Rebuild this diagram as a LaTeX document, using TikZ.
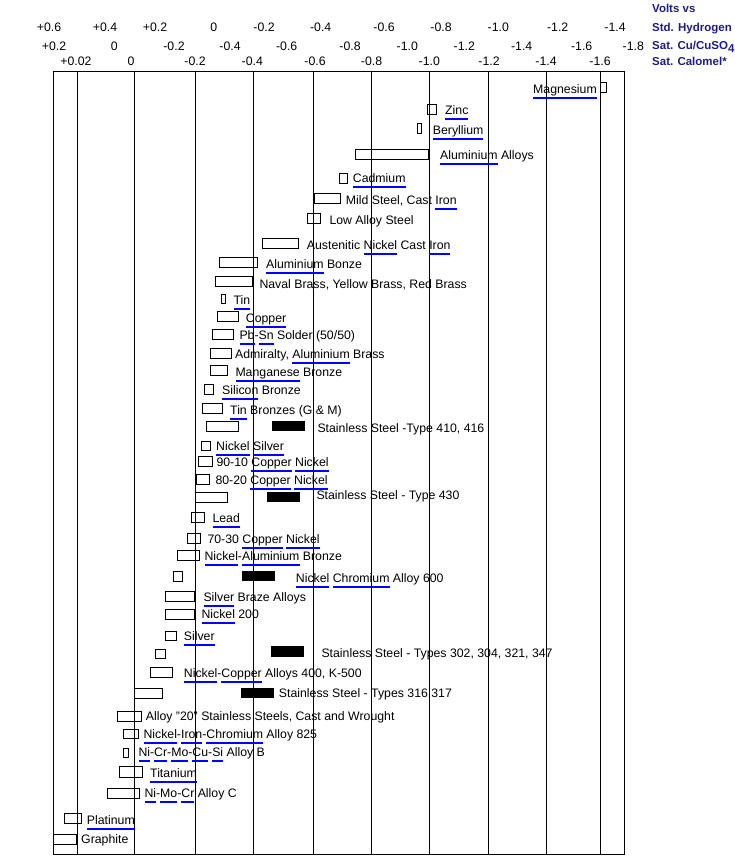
\documentclass[tikz,border=0pt]{standalone}
\usepackage{fontspec}
\setmainfont{Liberation Sans}
\usepackage{xcolor}
\definecolor{hdr}{RGB}{30,30,128}
\newlength\lnkw
\newcommand\lnk[1]{\settowidth\lnkw{#1}\rlap{\color{blue}\rule[-5.5pt]{\lnkw}{2pt}}#1}

\begin{document}
\begin{tikzpicture}[x=1pt,y=-1pt,
    every node/.style={inner sep=0,font=\fontsize{12.3}{14}\selectfont},
    lbl/.style={anchor=west,text height=8.6pt,text depth=0pt},
    tick/.style={text height=8.6pt,text depth=0pt},
    head/.style={anchor=west,text height=8.6pt,text depth=0pt,text=hdr,font=\fontsize{11.5}{14}\selectfont\bfseries},
    bar/.style={draw,line width=1pt},
    sbar/.style={fill=black}]
        \useasboundingbox (0,0) rectangle (735,860);
        % heading
        \node[head] (vv) at (652,8) {Volts vs};
        \node[head] (sh) at (652,27.5) {Std. Hydrogen};
        \node[head] (sc) at (652,45) {Sat. Cu/CuSO\raisebox{-3.5pt}{4}};
        \node[head] (sk) at (652,61) {Sat. Calomel*};
        \foreach \x/\v [count=\i] in {49/+0.6,105/+0.4,155/+0.2,213.7/0,264/-0.2,320.7/-0.4,384/-0.6,441/-0.8,498.3/-1.0,557.7/-1.2,615/-1.4}
          \node[tick] (h\i) at (\x,26.7) {\v};
        \foreach \x/\v [count=\i] in {54/+0.2,114.3/0,174/-0.2,230/-0.4,286.7/-0.6,350/-0.8,407.3/-1.0,464.3/-1.2,521.7/-1.4,581.7/-1.6,633.3/-1.8}
          \node[tick] (c\i) at (\x,46.3) {\v};
        \foreach \x/\v [count=\i] in {76/+0.02,131/0,195/-0.2,252.3/-0.4,315/-0.6,371.5/-0.8,429.3/-1.0,489/-1.2,546/-1.4,600/-1.6}
          \node[tick] (k\i) at (\x,61.2) {\v};
        % grid
        \draw[line width=1pt] (53.3,71.7) rectangle (624.7,854.3);
        \foreach \x in {77.3,134.3,195.3,253.3,313.3,371,429.3,488,546.7,600}
          \draw[line width=1pt] (\x,71.7) -- (\x,854.3);
        % metals
        \draw[bar] (600.7,82.3) rectangle (606.7,92.3);
        \node[lbl,anchor=east] (mg) at (597,89) {\lnk{Magnesium}};
        \draw[bar] (427.3,104.3) rectangle (436.7,114);
        \node[lbl] (zn) at (445,110.5) {\lnk{Zinc}};
        \draw[bar] (417.3,123.3) rectangle (421.3,133.3);
        \node[lbl] (be) at (432.7,130) {\lnk{Beryllium}};
        \draw[bar] (355.3,149.3) rectangle (428.7,159);
        \node[lbl] (al) at (440,155.5) {\lnk{Aluminium} Alloys};
        \draw[bar] (339.3,173.3) rectangle (347.3,183);
        \node[lbl] (cd) at (352.7,177.7) {\lnk{Cadmium}};
        \draw[bar] (314,193.3) rectangle (340.7,203.3);
        \node[lbl] (ms) at (345.7,200.5) {Mild Steel, Cast \lnk{Iron}};
        \draw[bar] (307.3,213.3) rectangle (320.7,223.3);
        \node[lbl] (las) at (329.3,219.7) {Low Alloy Steel};
        \draw[bar] (262.3,238.3) rectangle (298.7,248.3);
        \node[lbl] (anc) at (306.7,245.3) {Austenitic \lnk{Nickel} Cast \lnk{Iron}};
        \draw[bar] (219.3,257.3) rectangle (257.7,267.3);
        \node[lbl] (ab) at (266,263.7) {\lnk{Aluminium} Bonze};
        \draw[bar] (215.3,276) rectangle (252.7,286);
        \node[lbl] (br) at (259.3,283.7) {Naval Brass, Yellow Brass, Red Brass};
        \draw[bar] (221,294.3) rectangle (225.7,303.3);
        \node[lbl] (sn) at (233.3,300) {\lnk{Tin}};
        \draw[bar] (217.3,311) rectangle (238.7,321);
        \node[lbl] (cu) at (245.7,317.8) {\lnk{Copper}};
        \draw[bar] (212.3,329) rectangle (233.3,339);
        \node[lbl] (pbsn) at (239.3,335.3) {\lnk{Pb}-\lnk{Sn} Solder (50/50)};
        \draw[bar] (210,348.3) rectangle (231,358.3);
        \node[lbl] (adm) at (235,354.5) {Admiralty, \lnk{Aluminium} Brass};
        \draw[bar] (210,365.7) rectangle (227.7,375.7);
        \node[lbl] (mn) at (235.3,372) {\lnk{Manganese} Bronze};
        \draw[bar] (204,384.3) rectangle (213.7,394.3);
        \node[lbl] (si) at (222,390.5) {\lnk{Silicon} Bronze};
        \draw[bar] (202,403.3) rectangle (222.7,413.3);
        \node[lbl] (tb) at (230,410) {\lnk{Tin} Bronzes (G \& M)};
        \draw[bar] (206.3,421.3) rectangle (238.7,431.3);
        \fill[sbar] (272,421.3) rectangle (304.7,431.3);
        \node[lbl] (ssa) at (317.3,428) {Stainless Steel -Type 410, 416};
        \draw[bar] (201.7,441) rectangle (210.7,450.3);
        \node[lbl] (ns) at (216,446.5) {\lnk{Nickel} \lnk{Silver}};
        \draw[bar] (198.3,456.3) rectangle (212.3,466.3);
        \node[lbl] (cna) at (216.3,462.5) {90-10 \lnk{Copper} \lnk{Nickel}};
        \draw[bar] (196,474.3) rectangle (209.3,484.3);
        \node[lbl] (cnb) at (215.3,480.5) {80-20 \lnk{Copper} \lnk{Nickel}};
        \draw[bar] (195.3,492.3) rectangle (227.7,502.3);
        \fill[sbar] (267,492.3) rectangle (299.7,502.3);
        \node[lbl] (ssb) at (316.3,495.5) {Stainless Steel - Type 430};
        \draw[bar] (191,512.3) rectangle (204.3,522.3);
        \node[lbl] (pb) at (212.3,518) {\lnk{Lead}};
        \draw[bar] (187.3,533) rectangle (200.3,543);
        \node[lbl] (cnc) at (207.3,538.8) {70-30 \lnk{Copper} \lnk{Nickel}};
        \draw[bar] (177,550) rectangle (199.3,560);
        \node[lbl] (nab) at (204.3,556) {\lnk{Nickel}-\lnk{Aluminium} Bronze};
        \draw[bar] (173,571) rectangle (182.7,581);
        \fill[sbar] (242.3,571) rectangle (274.7,581);
        \node[lbl] (ncr) at (295.7,578.3) {\lnk{Nickel} \lnk{Chromium} Alloy 600};
        \draw[bar] (165.3,591) rectangle (194.7,601);
        \node[lbl] (sba) at (203.3,597.5) {\lnk{Silver} Braze Alloys};
        \draw[bar] (165.3,609) rectangle (194.7,619);
        \node[lbl] (ni) at (201.3,614) {\lnk{Nickel} 200};
        \draw[bar] (165.3,631) rectangle (176.3,640.3);
        \node[lbl] (ag) at (183.7,636.3) {\lnk{Silver}};
        \draw[bar] (155.3,649) rectangle (165.3,658.3);
        \fill[sbar] (271,646) rectangle (303.7,656.7);
        \node[lbl] (ssc) at (321.3,653.3) {Stainless Steel - Types 302, 304, 321, 347};
        \draw[bar] (150.3,667.7) rectangle (172.3,677.3);
        \node[lbl] (ncu) at (183.7,673) {\lnk{Nickel}-\lnk{Copper} Alloys 400, K-500};
        \draw[bar] (134.3,688.3) rectangle (162.3,698.3);
        \fill[sbar] (241,688.3) rectangle (273.7,698.3);
        \node[lbl] (ssd) at (278.7,693) {Stainless Steel - Types 316,317};
        \draw[bar] (117.3,711.7) rectangle (141.3,721.3);
        \node[lbl] (atw) at (145.7,716.3) {Alloy "20" Stainless Steels, Cast and Wrought};
        \draw[bar] (123.3,729) rectangle (138.7,738.7);
        \node[lbl] (nfc) at (143.3,733.8) {\lnk{Nickel}-\lnk{Iron}-\lnk{Chromium} Alloy 825};
        \draw[bar] (123.3,748.3) rectangle (128,757.3);
        \node[lbl] (alb) at (138.3,752) {\lnk{Ni}-\lnk{Cr}-\lnk{Mo}-\lnk{Cu}-\lnk{Si} Alloy B};
        \draw[bar] (119,766.7) rectangle (142.3,777.3);
        \node[lbl] (ti) at (150,772.8) {\lnk{Titanium}};
        \draw[bar] (107.3,788.3) rectangle (139.3,798.3);
        \node[lbl] (alc) at (144.3,793.3) {\lnk{Ni}-\lnk{Mo}-\lnk{Cr} Alloy C};
        \draw[bar] (64.3,813.7) rectangle (81.7,823.7);
        \node[lbl] (pt) at (86.7,819.7) {\lnk{Platinum}};
        \draw[bar] (53.3,834) rectangle (76.7,844);
        \node[lbl] (gr) at (81,839.5) {Graphite};
      \end{tikzpicture}
\end{document}
